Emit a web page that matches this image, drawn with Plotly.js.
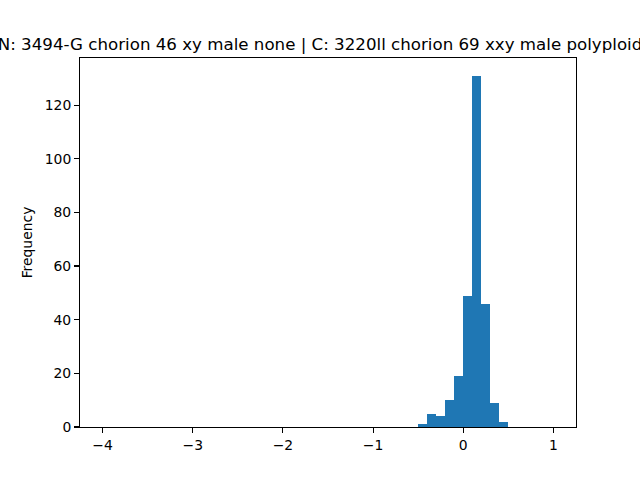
<!DOCTYPE html>
<html>
<head>
<meta charset="utf-8">
<script src="https://cdn.plot.ly/plotly-3.0.1.min.js"></script>
<style>html,body{margin:0;padding:0;background:#fff;}#chart{width:640px;height:480px;}</style>
</head>
<body>
<div id="chart"></div>
<script>
// Histogram: 50 bins of width 0.1 over [-4, 1]; only non-empty bins listed
const binLeftEdges = [-0.5, -0.4, -0.3, -0.2, -0.1, 0.0, 0.1, 0.2, 0.3, 0.4];
const binCounts = [1, 5, 4, 10, 19, 49, 131, 46, 9, 2];
const binWidth = 0.1;
const xTickValues = [-4, -3, -2, -1, 0, 1];
const yTickValues = [0, 20, 40, 60, 80, 100, 120];
const chartTitle = "N: 3494-G chorion 46 xy male none | C: 3220ll chorion 69 xxy male polyploid";

const centers = binLeftEdges.map(e => e + binWidth / 2);

const trace = {
  type: 'bar',
  x: centers,
  y: binCounts,
  width: binLeftEdges.map(() => binWidth),
  marker: {color: '#1f77b4', line: {width: 0}},
  hoverinfo: 'x+y'
};

const axisCommon = {
  showline: true, linecolor: '#000', linewidth: 1.1, mirror: true,
  ticks: 'outside', ticklen: 4.9, tickwidth: 1.1, tickcolor: '#000',
  showgrid: false, zeroline: false,
  tickfont: {family: 'DejaVu Sans', size: 13.9, color: '#000'}
};

const layout = {
  width: 640, height: 480,
  margin: {l: 80, r: 64, t: 58, b: 53, pad: 0},
  paper_bgcolor: '#fff', plot_bgcolor: '#fff',
  showlegend: false,
  bargap: 0,
  title: {text: chartTitle, font: {family: 'DejaVu Sans', size: 16.67, color: '#000'},
          x: 0.5, xref: 'container', xanchor: 'center', y: 1 - 44/480, yref: 'container', yanchor: 'middle'},
  xaxis: Object.assign({}, axisCommon, {
    range: [-4.25, 1.25], tickvals: xTickValues, ticktext: xTickValues.map(v => v < 0 ? '\u2212' + Math.abs(v) : String(v))
  }),
  yaxis: Object.assign({}, axisCommon, {
    range: [0, 137.55], tickvals: yTickValues,
    title: {text: 'Frequency', font: {family: 'DejaVu Sans', size: 13.9, color: '#000'}, standoff: 8}
  })
};

Plotly.newPlot('chart', [trace], layout, {displayModeBar: false, staticPlot: true});
</script>
</body>
</html>
